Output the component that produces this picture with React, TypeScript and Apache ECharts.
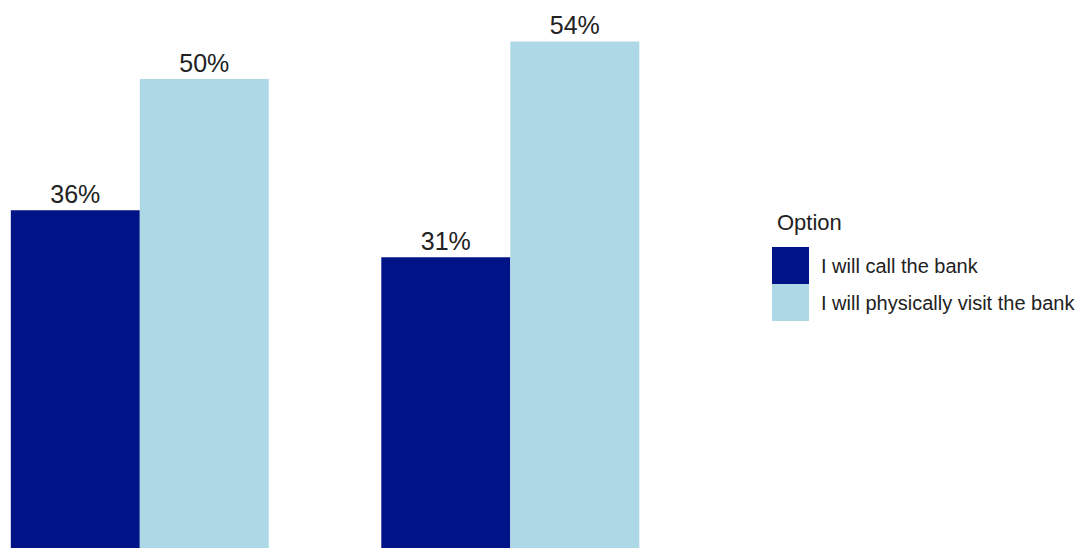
import React, { useEffect, useRef } from "react";
import * as echarts from "echarts";

const categories = ["Group A", "Group B"];
const seriesNames = ["I will call the bank", "I will physically visit the bank"];
const callBank = [36, 31];
const visitBank = [50, 54];
const colors = ["#001488", "#ADD8E6"];
const legendTitle = "Option";

export default function App() {
  const ref = useRef<HTMLDivElement>(null);
  useEffect(() => {
    if (!ref.current) return;
    const chart = echarts.init(ref.current, null, { renderer: "svg" });
    const font = "'Liberation Sans', Arial, sans-serif";
    const label = {
      show: true,
      position: "top" as const,
      distance: 4,
      formatter: "{c}%",
      fontSize: 25,
      fontFamily: font,
      color: "#222",
    };
    chart.setOption({
      animation: false,
      backgroundColor: "#ffffff",
      title: {
        text: legendTitle,
        left: 777,
        top: 211,
        textStyle: { fontSize: 22, fontWeight: "normal", fontFamily: font, color: "#222" },
        padding: 0,
      },
      legend: {
        orient: "vertical",
        left: 772,
        top: 247,
        itemWidth: 37,
        itemHeight: 37,
        itemGap: 0,
        padding: 0,
        icon: "rect",
        textStyle: { fontSize: 20, fontFamily: font, color: "#222", padding: [0, 0, 0, 7] },
        data: seriesNames,
      },
      grid: { left: 139.8, width: 370.5, top: 4, bottom: 1, containLabel: false },
      xAxis: {
        type: "category",
        data: categories,
        boundaryGap: false,
        show: false,
      },
      yAxis: { type: "value", min: 0, max: 58, show: false },
      series: [
        {
          name: seriesNames[0],
          type: "bar",
          data: callBank,
          barWidth: 129,
          barGap: "0%",
          itemStyle: { color: colors[0] },
          label,
        },
        {
          name: seriesNames[1],
          type: "bar",
          data: visitBank,
          barWidth: 129,
          barGap: "0%",
          itemStyle: { color: colors[1] },
          label,
        },
      ],
    });
    return () => chart.dispose();
  }, []);
  return (
    <div
      ref={ref}
      style={{ position: "absolute", left: 0, top: 0, width: 1088, height: 549 }}
    />
  );
}
